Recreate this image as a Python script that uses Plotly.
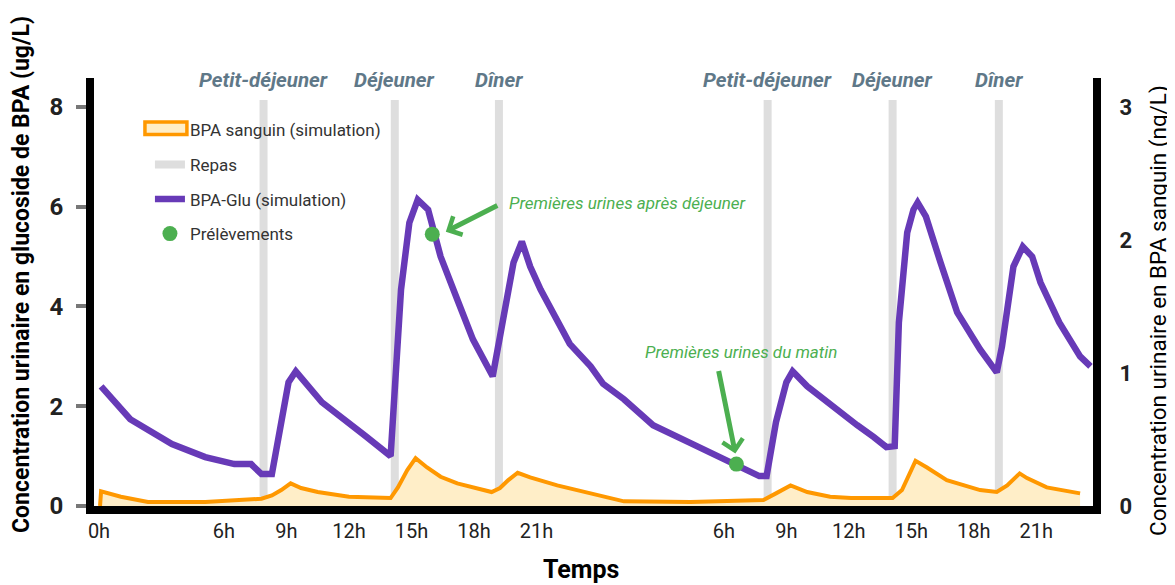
import plotly.graph_objects as go

# BPA-Glu in urine (simulation), left axis, ug/L — time in hours from day 1 midnight
glu_h = [0.1, 1.5, 3.5, 5.1, 6.5, 7.3, 7.8, 8.3, 9.1, 9.45, 10.7, 11.6, 12.8, 14.0,
         14.2, 14.5, 14.9, 15.3, 15.8, 16.4, 17.2, 17.95, 18.9, 19.4, 19.9, 20.3,
         20.7, 21.2, 22.6, 23.6, 24.2, 25.2, 26.6, 28.3, 29.9, 30.6, 31.7, 32.05,
         32.5, 33.0, 33.3, 34.0, 35.2, 36.4, 37.2, 37.8, 38.2, 38.4, 38.8, 39.1,
         39.3, 39.7, 40.4, 41.2, 42.3, 43.1, 43.35, 43.6, 43.9, 44.35, 44.8, 45.2,
         46.1, 47.1, 47.6]
glu_v = [2.4, 1.74, 1.24, 0.98, 0.84, 0.84, 0.64, 0.64, 2.48, 2.7, 2.08, 1.8, 1.4, 1.0,
         2.2, 4.34, 5.68, 6.14, 5.94, 5.0, 4.14, 3.34, 2.6, 3.8, 4.88, 5.3,
         4.8, 4.34, 3.25, 2.8, 2.45, 2.14, 1.62, 1.28, 0.96, 0.84, 0.6, 0.6,
         1.68, 2.48, 2.7, 2.4, 2.0, 1.62, 1.38, 1.18, 1.2, 3.68, 5.48, 5.94,
         6.08, 5.8, 4.88, 3.88, 3.14, 2.68, 3.2, 4.0, 4.8, 5.2, 5.0, 4.48,
         3.68, 3.0, 2.8]

# BPA sanguin (simulation), right axis, ng/L
sang_h = [0.05, 0.1, 1.05, 2.35, 5.1, 6.7, 7.8, 8.3, 8.75, 9.2, 9.7, 10.5, 12.0, 14.0,
          14.35, 14.8, 15.2, 15.75, 16.4, 17.2, 18.85, 19.25, 19.65, 20.1, 20.7, 22.0,
          24.15, 25.2, 28.4, 31.9, 32.5, 33.2, 34.0, 35.1, 36.1, 38.1, 38.55, 38.85,
          39.2, 39.75, 40.7, 42.3, 43.1, 43.6, 44.2, 44.55, 45.5, 47.1]
sang_v = [0.0, 0.11, 0.07, 0.03, 0.03, 0.045, 0.055, 0.08, 0.12, 0.17, 0.135, 0.105, 0.07, 0.06,
          0.14, 0.27, 0.36, 0.29, 0.22, 0.17, 0.105, 0.135, 0.195, 0.25, 0.215, 0.155,
          0.07, 0.035, 0.03, 0.045, 0.095, 0.155, 0.105, 0.07, 0.06, 0.06, 0.12, 0.22,
          0.34, 0.29, 0.195, 0.12, 0.105, 0.155, 0.245, 0.21, 0.14, 0.095]

# meals
meal_h = [7.9, 14.2, 19.2, 32.1, 38.1, 43.2]
meal_names = ["Petit-déjeuner", "Déjeuner", "Dîner", "Petit-déjeuner", "Déjeuner", "Dîner"]

# urine samples
sample_h = [16.0, 30.6]
sample_v = [5.45, 0.84]
sample_notes = ["Premières urines après déjeuner", "Premières urines du matin"]

# x tick labels
tick_h = [0, 6, 9, 12, 15, 18, 21, 30, 33, 36, 39, 42, 45]
tick_txt = ["0h", "6h", "9h", "12h", "15h", "18h", "21h", "6h", "9h", "12h", "15h", "18h", "21h"]

ORANGE = "#ff9800"
ORANGE_FILL = "#ffeec8"
PURPLE = "#673ab7"
GREEN = "#4caf50"
GREY_BAR = "#dedede"
SLATE = "#5f7888"
FONT = "Roboto"
MEAL_TOP = 8.14

fig = go.Figure()

# meal bars, one trace with gaps
bx, by = [], []
for m in meal_h:
    bx += [m, m, None]
    by += [0, MEAL_TOP, None]
fig.add_trace(go.Scatter(
    x=bx, y=by, mode="lines", name="Repas",
    line=dict(color=GREY_BAR, width=8),
    legendrank=2, legendgroup="b", hoverinfo="skip",
))

fig.add_trace(go.Scatter(
    x=sang_h, y=sang_v, mode="lines", name="BPA sanguin (simulation)",
    line=dict(color=ORANGE, width=4), fill="tozeroy", fillcolor=ORANGE_FILL,
    yaxis="y2", showlegend=False, legendgroup="a",
))
# legend entry for the area: text only, the outlined box swatch is drawn as a paper shape
fig.add_trace(go.Scatter(
    x=[None], y=[None], mode="lines", name="BPA sanguin (simulation)",
    line=dict(color="rgba(0,0,0,0)", width=1),
    legendrank=1, legendgroup="a",
))
fig.add_shape(
    type="rect", xref="paper", yref="paper", x0=0.051, x1=0.093, y0=0.868, y1=0.897,
    fillcolor=ORANGE_FILL, line=dict(color=ORANGE, width=3.5),
)

fig.add_trace(go.Scatter(
    x=glu_h, y=glu_v, mode="lines", name="BPA-Glu (simulation)",
    line=dict(color=PURPLE, width=6.5),
    legendrank=3, legendgroup="c",
))

fig.add_trace(go.Scatter(
    x=sample_h, y=sample_v, mode="markers", name="Prélèvements",
    marker=dict(color=GREEN, size=15),
    legendrank=4, legendgroup="d",
))

# meal labels on top
for m, name in zip(meal_h, meal_names):
    fig.add_annotation(
        x=m, y=0.995, yref="paper", text=f"<b><i>{name}</i></b>", showarrow=False,
        yanchor="middle", font=dict(family=FONT, size=20.5, color=SLATE),
    )

# sample notes + arrows
fig.add_annotation(x=19.6, y=6.08, text=f"<i>{sample_notes[0]}</i>", showarrow=False,
                   xanchor="left", font=dict(family=FONT, size=17, color=GREEN))
fig.add_annotation(x=16.65, y=5.5, text="", showarrow=True, ax=53, ay=-27,
                   arrowhead=4, arrowsize=0.8, arrowwidth=5, arrowcolor=GREEN)
fig.add_annotation(x=26.1, y=3.08, text=f"<i>{sample_notes[1]}</i>", showarrow=False,
                   xanchor="left", font=dict(family=FONT, size=17, color=GREEN))
fig.add_annotation(x=30.55, y=1.05, text="", showarrow=True, ax=-17, ay=-84,
                   arrowhead=4, arrowsize=0.8, arrowwidth=5, arrowcolor=GREEN)

# axis titles placed as annotations
fig.add_annotation(x=-0.072, y=0.54, xref="paper", yref="paper", textangle=-90,
                   text="<b>Concentration urinaire en glucoside de BPA (ug/L)</b>",
                   showarrow=False, xanchor="center", yanchor="middle",
                   font=dict(family=FONT, size=23, color="black"))
fig.add_annotation(x=1.066, y=0.458, xref="paper", yref="paper", textangle=-90,
                   text="Concentration urinaire en BPA sanguin (ng/L)",
                   showarrow=False, xanchor="center", yanchor="middle",
                   font=dict(family=FONT, size=22.5, color="black"))
fig.add_annotation(x=0.487, y=-0.148, xref="paper", yref="paper",
                   text="<b>Temps</b>", showarrow=False, xanchor="center", yanchor="middle",
                   font=dict(family=FONT, size=25, color="black"))

# the page body adds an 8px offset, so the figure is 8px smaller than the window
fig.update_layout(
    width=1167, height=577,
    margin=dict(l=86, r=82, t=70, b=79),
    paper_bgcolor="white", plot_bgcolor="white",
    font=dict(family=FONT, color="#222222"),
    showlegend=True,
    legend=dict(
        x=0.056, y=0.92, xanchor="left", yanchor="top",
        bgcolor="rgba(0,0,0,0)", font=dict(family=FONT, size=17, color="#333333"),
        tracegroupgap=9.5, traceorder="grouped",
    ),
    xaxis=dict(
        range=[-0.24, 47.72], tickvals=tick_h, ticktext=tick_txt, automargin=False,
        showgrid=False, zeroline=False, showline=True, linecolor="black", linewidth=8,
        ticks="", tickfont=dict(family=FONT, size=20, color="#222222"),
    ),
    yaxis=dict(
        range=[0, 8.58], tickvals=[0, 2, 4, 6, 8], automargin=False,
        showgrid=False, zeroline=False, showline=True, linecolor="black", linewidth=8,
        ticks="outside", ticklen=10, tickwidth=4, tickcolor="#777777", ticklabelstandoff=8,
        tickfont=dict(family=FONT, size=24, color="#222222", weight="bold"),
    ),
    yaxis2=dict(
        range=[0, 3.22], tickvals=[0, 1, 2, 3], overlaying="y", side="right", automargin=False,
        showgrid=False, zeroline=False, showline=True, linecolor="black", linewidth=8,
        ticks="", ticklabelstandoff=14,
        tickfont=dict(family=FONT, size=22, color="#222222", weight="bold"),
    ),
)

fig.write_html("out.html")
